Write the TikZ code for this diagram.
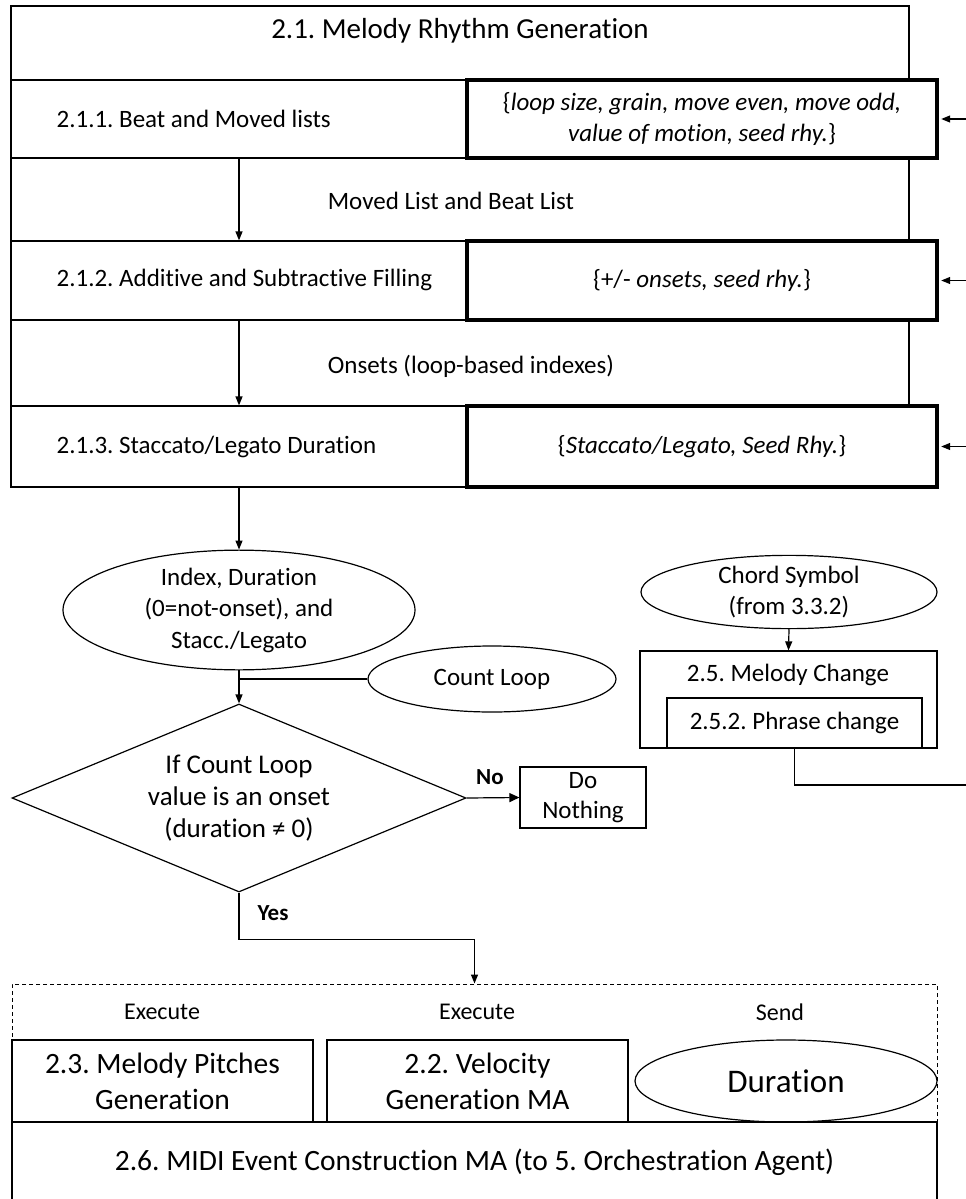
\documentclass[tikz,border=0pt]{standalone}
\usepackage{fontspec}
\setmainfont[Ligatures=NoCommon]{Carlito}
\usetikzlibrary{arrows.meta,shapes.geometric,calc}
\frenchspacing

\begin{document}
\begin{tikzpicture}[x=1pt,y=-1pt,
  line width=1.2pt,
  >={Triangle[length=9pt,width=7pt]},
  txt/.style={font=\fontsize{25}{31.5}\selectfont, inner sep=0pt, align=center},
  cell/.style={draw, inner sep=0pt},
  parbox/.style={draw, line width=4.2pt, fill=white, inner sep=0pt,
    minimum width=470pt, align=center, font=\fontsize{25}{31}\selectfont},
  oval/.style={draw, ellipse, inner sep=0pt, align=center,
    font=\fontsize{25}{31.5}\selectfont},
  yn/.style={font=\fontsize{23}{28}\selectfont\bfseries, inner sep=0pt},
  big/.style={font=\fontsize{29.5}{36}\selectfont, align=center},
]
\useasboundingbox (0,0) rectangle (966,1199);

% ---- 2.1 Melody Rhythm Generation frame ----
\node[cell, minimum width=898pt, minimum height=481pt] (frame) at (460,246.5) {};
\node[txt, font=\fontsize{29}{35}\selectfont] (title) at (460,31) {2.1. Melody Rhythm Generation};

% row cells
\node[cell, minimum width=456pt, minimum height=78pt] (r1) at (239,119) {};
\node[cell, minimum width=456pt, minimum height=79pt] (r2) at (239,280.5) {};
\node[cell, minimum width=456pt, minimum height=81pt] (r3) at (239,446.5) {};
\node[txt, anchor=west] (r1t) at (56,119) {2.1.1. Beat and Moved lists};
\node[txt, anchor=west] (r2t) at (56,280) {2.1.2. Additive and Subtractive Filling};
\node[txt, anchor=west] (r3t) at (56,447) {2.1.3. Staccato/Legato Duration};

% parameter boxes
\node[parbox, minimum height=78pt] (p1) at (702,119)
  {\{\textit{loop size, grain, move even, move odd,}\\\textit{value of motion, seed rhy.}\}};
\node[parbox, minimum height=79pt] (p2) at (702,280.5)
  {\{+/- \textit{onsets, seed rhy.}\}};
\node[parbox, minimum height=81pt] (p3) at (702,446.5)
  {\{\textit{Staccato/Legato, Seed Rhy.}\}};

\coordinate (in1) at (966,119);
\coordinate (in2) at (966,280.5);
\coordinate (in3) at (966,446.5);
\draw[->, shorten >=2.1pt] (in1) -- (p1.east);
\draw[->, shorten >=2.1pt] (in2) -- (p2.east);
\draw[->, shorten >=2.1pt] (in3) -- (p3.east);

% flow inside 2.1
\draw[->] (r1.south) -- (r2.north);
\draw[->] (r2.south) -- (r3.north);
\node[txt] (l1) at (451,201) {Moved List and Beat List};
\node[txt] (l2) at (471,366) {Onsets (loop-based indexes)};

% ---- onset test ----
\node[oval, minimum width=352pt, minimum height=96pt] (idx) at (239,610)
  {Index, Duration\\(0=not-onset), and\\Stacc./Legato};
\draw[->] (r3.south) -- (idx.north);

\node[oval, minimum width=248pt, minimum height=66pt] (cl) at (492,679) {Count Loop};
\coordinate (jn) at (239,679);

\node[draw, diamond, shape aspect=2.415, minimum width=454pt, minimum height=188pt,
  inner sep=0pt, align=center, font=\fontsize{27}{32}\selectfont] (dia) at (239,798)
  {If Count Loop\\value is an onset\\(duration ≠ 0)};
\draw[->] (idx.south) -- (dia.north);
\draw (cl.west) -- (jn);

\node[cell, minimum width=126pt, minimum height=61pt, align=center,
  font=\fontsize{25}{30}\selectfont] (dn) at (583,797.5) {Do\\Nothing};
\draw[->, >={Triangle[length=10pt,width=9pt]}] (dia.east) -- (dn.west);
\node[yn] (no) at (490,777) {No};

% ---- execution group ----
\node[draw, dash pattern=on 4pt off 3pt, line width=1pt, minimum width=925pt,
  minimum height=138pt, inner sep=0pt] (grp) at (474.5,1053) {};
\draw[->] (dia.south) -- ++(0,47) -| (grp.north);
\node[yn] (yes) at (273,913) {Yes};

\node[txt, font=\fontsize{24}{30}\selectfont] (ex1) at (162,1012) {Execute};
\node[txt, font=\fontsize{24}{30}\selectfont] (ex2) at (477,1012) {Execute};
\node[txt, font=\fontsize{24}{30}\selectfont] (snd) at (780,1012) {Send};

\node[cell, big, minimum width=301pt, minimum height=82pt] (b23) at (162.5,1081)
  {2.3. Melody Pitches\\Generation};
\node[cell, big, minimum width=301pt, minimum height=82pt] (b22) at (477.5,1081)
  {2.2. Velocity\\Generation MA};
\node[draw, ellipse, inner sep=0pt, minimum width=302pt, minimum height=82pt,
  font=\fontsize{33}{38}\selectfont] (dur) at (786,1081) {Duration};

\node[cell, big, minimum width=925pt, minimum height=80pt] (b26) at (474.5,1162)
  {2.6. MIDI Event Construction MA (to 5. Orchestration Agent)};

% ---- 2.5 Melody Change ----
\node[oval, minimum width=296pt, minimum height=61pt, font=\fontsize{25}{31}\selectfont]
  (ch) at (789,592) {Chord Symbol\\(from 3.3.2)};
\node[cell, minimum width=297pt, minimum height=97pt] (mc) at (788.5,699.5) {};
\node[txt] (mct) at (788,675) {2.5. Melody Change};
\node[cell, txt, minimum width=255pt, minimum height=50pt] (pc) at (794.5,723)
  {2.5.2. Phrase change};
\draw[->] (ch.south) -- (mc.north);
\coordinate (out5) at (966,785);
\draw (pc.south) |- (out5);

\end{tikzpicture}
\end{document}
